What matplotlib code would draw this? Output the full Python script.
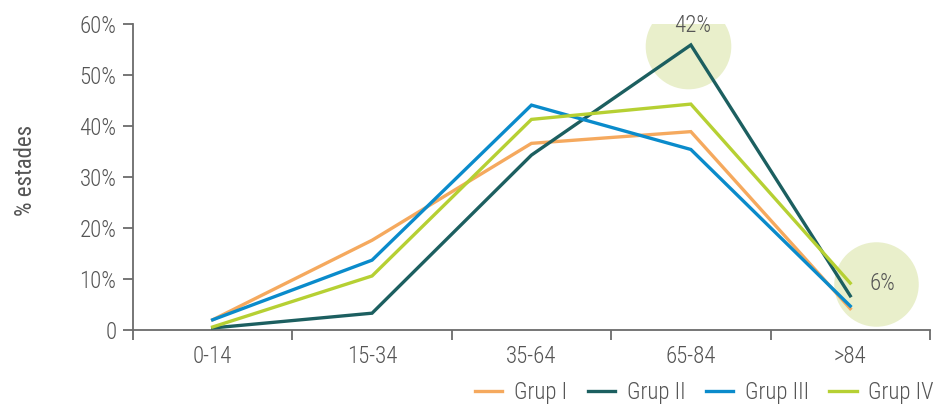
import matplotlib
matplotlib.use("Agg")
import matplotlib.pyplot as plt
from matplotlib import font_manager

# Age bands and share of stays (%) per group
categories = ["0-14", "15-34", "35-64", "65-84", ">84"]
grup_i = [2.0, 17.6, 36.6, 38.9, 4.2]
grup_ii = [0.4, 3.3, 34.3, 55.9, 6.7]
grup_iii = [2.0, 13.7, 44.1, 35.4, 4.7]
grup_iv = [0.6, 10.6, 41.3, 44.3, 9.2]
series_names = ["Grup I", "Grup II", "Grup III", "Grup IV"]
y_ticks = [0, 10, 20, 30, 40, 50, 60]
y_tick_labels = ["0", "10%", "20%", "30%", "40%", "50%", "60%"]
callout_texts = ["42%", "6%"]

colors = ["#f5a95e", "#1c5f60", "#0a8bcb", "#b6d033"]

available = sorted({f.name for f in font_manager.fontManager.ttflist})
narrow = [n for n in ["Liberation Sans Narrow", "Roboto Condensed", "Open Sans Condensed",
                      "Noto Sans Condensed", "Roboto"] if n in available]
family = narrow[0] if narrow else "DejaVu Sans"
plt.rcParams["font.family"] = [family, "DejaVu Sans"]
plt.rcParams["font.stretch"] = "condensed"
plt.rcParams["font.weight"] = "light"

text_color = "#555555"
axis_color = "#6b6b6b"
fs = 16.5

fig = plt.figure(figsize=(9.47, 4.12), dpi=100)
ax = fig.add_axes([0.1404, 0.199, 0.8416, 0.7427])

x = list(range(len(categories)))
for vals, name, c in zip([grup_i, grup_ii, grup_iii, grup_iv], series_names, colors):
    ax.plot(x, vals, color=c, lw=2.4, label=name, zorder=3, solid_joinstyle="miter")

# Highlight bubbles behind the lines
bubble = "#e9efcb"
ax.scatter([x[3] - 0.02], [grup_ii[3] - 0.2], s=3800, color=bubble, zorder=1, linewidths=0)
ax.scatter([x[4] + 0.16], [9.0], s=3700, color=bubble, zorder=1, linewidths=0)
ax.text(x[3] + 0.01, 59.7, callout_texts[0], ha="center", va="center",
        fontsize=fs, color=text_color, zorder=4)
ax.text(x[4] + 0.2, 9.2, callout_texts[1], ha="center", va="center",
        fontsize=fs, color=text_color, zorder=4)

ax.set_xlim(-0.5, len(categories) - 0.5)
ax.set_ylim(0, 60)
ax.set_yticks(y_ticks)
ax.set_yticklabels(y_tick_labels)
ax.set_xticks([i - 0.5 for i in range(len(categories) + 1)])
ax.set_xticklabels([])
ax.set_xticks(x, minor=True)
ax.set_xticklabels(categories, minor=True)
ax.tick_params(axis="x", which="minor", length=0, pad=11, labelsize=fs, labelcolor=text_color)
ax.tick_params(axis="x", which="major", length=7, width=1.3, color=axis_color)
ax.tick_params(axis="y", length=7, width=1.3, color=axis_color, direction="out", pad=5,
               labelsize=fs, labelcolor=text_color)
# x ticks point downward from the axis line
for t in ax.xaxis.get_major_ticks():
    t.tick1line.set_marker(matplotlib.lines.TICKDOWN)

for s in ["top", "right"]:
    ax.spines[s].set_visible(False)
for s in ["left", "bottom"]:
    ax.spines[s].set_color(axis_color)
    ax.spines[s].set_linewidth(1.3)

ax.set_ylabel("% estades", fontsize=fs, color=text_color)
ax.yaxis.set_label_coords(-0.121, 0.52)

fig.legend(loc="lower right", bbox_to_anchor=(1.008, -0.03), ncol=4, frameon=False,
           fontsize=fs, handlelength=1.2, columnspacing=0.9, handletextpad=0.5,
           labelcolor=text_color)

fig.savefig("out.png", dpi=100, facecolor="white")
